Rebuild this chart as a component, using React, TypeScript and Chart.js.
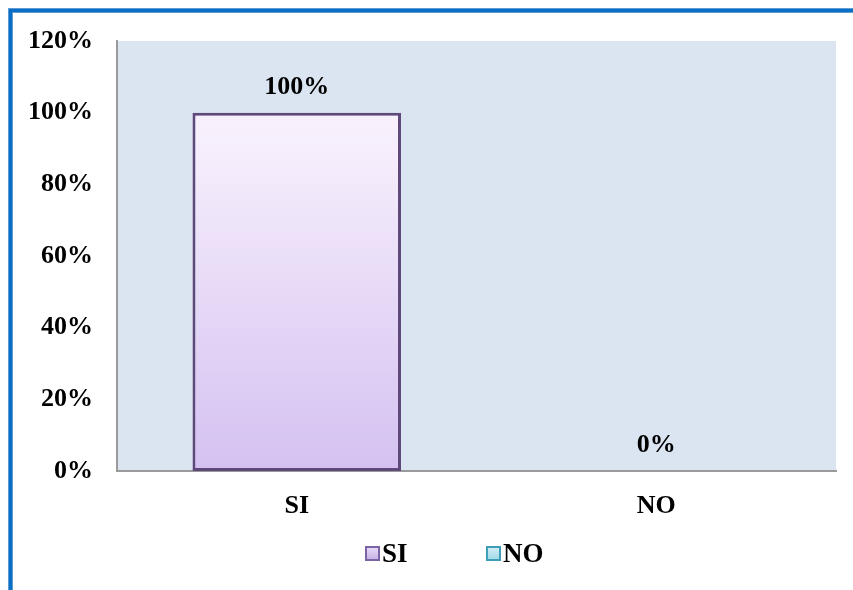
import React, { useEffect, useRef } from "react";
import { Chart, registerables } from "chart.js";

Chart.register(...registerables);

const categories = ["SI", "NO"];
const seriesNames = ["SI", "NO"];
const siValues: (number | null)[] = [100, null];
const noValues: (number | null)[] = [null, 0];
const yTicks = [0, 20, 40, 60, 80, 100, 120];

const FONT = "'Liberation Serif', 'Times New Roman', serif";

const frameAndBg = {
  id: "frameAndBg",
  beforeDraw(chart: any) {
    const { ctx, chartArea } = chart;
    ctx.save();
    ctx.fillStyle = "#ffffff";
    ctx.fillRect(0, 0, chart.width, chart.height);
    ctx.fillStyle = "#dbe5f1";
    ctx.fillRect(chartArea.left, chartArea.top, chartArea.right - chartArea.left, chartArea.bottom - chartArea.top);
    // blue outer frame
    ctx.fillStyle = "#5a9bd8";
    ctx.fillRect(8, 8, chart.width, 5);
    ctx.fillRect(8, 8, 5, chart.height);
    ctx.fillStyle = "#0a6fc2";
    ctx.fillRect(9, 9, chart.width, 3);
    ctx.fillRect(9, 9, 3, chart.height);
    ctx.restore();
  },
};

const valueLabels = {
  id: "valueLabels",
  afterDatasetsDraw(chart: any) {
    const { ctx } = chart;
    ctx.save();
    ctx.font = `bold 26px ${FONT}`;
    ctx.fillStyle = "#000";
    ctx.textAlign = "center";
    ctx.textBaseline = "alphabetic";
    chart.data.datasets.forEach((ds: any, i: number) => {
      const meta = chart.getDatasetMeta(i);
      meta.data.forEach((el: any, j: number) => {
        const v = ds.data[j];
        if (v === null || v === undefined) return;
        ctx.fillText(`${v}%`, el.x, el.y - 19);
      });
    });
    ctx.restore();
  },
};

const customLegend = {
  id: "customLegend",
  afterDraw(chart: any) {
    const { ctx } = chart;
    const starts = [365, 486];
    const y = 553;
    ctx.save();
    ctx.font = `bold 27px ${FONT}`;
    ctx.textBaseline = "middle";
    ctx.textAlign = "left";
    chart.data.datasets.forEach((ds: any, i: number) => {
      const x = starts[i];
      const g = ctx.createLinearGradient(0, y - 7, 0, y + 7);
      g.addColorStop(0, ds.legendTop);
      g.addColorStop(1, ds.legendBottom);
      ctx.fillStyle = g;
      ctx.fillRect(x, y - 7, 15, 15);
      ctx.strokeStyle = ds.legendBorder;
      ctx.lineWidth = 2;
      ctx.strokeRect(x + 1, y - 6, 13, 13);
      ctx.fillStyle = "#000";
      ctx.fillText(ds.label, x + 17, y + 2);
    });
    ctx.restore();
  },
};

export default function App() {
  const ref = useRef<HTMLCanvasElement>(null);
  useEffect(() => {
    if (!ref.current) return;
    const chart = new Chart(ref.current, {
      type: "bar",
      data: {
        labels: categories,
        datasets: [
          {
            label: seriesNames[0],
            data: siValues,
            backgroundColor: (c: any) => {
              const area = c.chart.chartArea;
              if (!area) return "#e6d9f7";
              const g = c.chart.ctx.createLinearGradient(0, area.top, 0, area.bottom);
              g.addColorStop(0, "#fdf7fe");
              g.addColorStop(0.25, "#f6eefc");
              g.addColorStop(1, "#d4c1f1");
              return g;
            },
            borderColor: "#5f497a",
            borderWidth: 3,
            borderSkipped: false,
            legendTop: "#eadff8",
            legendBottom: "#c6b1e6",
            legendBorder: "#7d64a4",
          } as any,
          {
            label: seriesNames[1],
            data: noValues,
            backgroundColor: "#b7e3ef",
            borderColor: "#4bacc6",
            borderWidth: 0,
            legendTop: "#d8f1f8",
            legendBottom: "#9fd8e8",
            legendBorder: "#3f9fba",
          } as any,
        ],
      },
      options: {
        responsive: true,
        maintainAspectRatio: false,
        animation: false,
        layout: { padding: { top: 41, right: 17, left: 0, bottom: 0 } },
        datasets: {
          bar: { grouped: false, categoryPercentage: 1, barPercentage: 0.58 },
        },
        plugins: {
          legend: { display: false },
          tooltip: { enabled: false },
        },
        scales: {
          x: {
            grid: { display: false, drawTicks: false },
            border: { display: true, color: "#9a9a9a", width: 2 },
            ticks: {
              color: "#000",
              padding: 20,
              font: { family: FONT, size: 26, weight: "bold" },
            },
            afterFit: (s: any) => {
              s.height = 119;
            },
          },
          y: {
            min: 0,
            max: 120,
            afterBuildTicks: (s: any) => {
              s.ticks = yTicks.map((v) => ({ value: v }));
            },
            grid: { display: false, drawTicks: false },
            border: { display: true, color: "#9a9a9a", width: 2 },
            ticks: {
              color: "#000",
              padding: 24,
              font: { family: FONT, size: 26, weight: "bold" },
              callback: (v: any) => `${v}%`,
            },
            afterFit: (s: any) => {
              s.width = 117;
            },
          },
        },
      },
      plugins: [frameAndBg, valueLabels, customLegend],
    });
    return () => chart.destroy();
  }, []);
  return (
    <div style={{ position: "absolute", left: 0, top: 0, width: 853, height: 590 }}>
      <canvas ref={ref} />
    </div>
  );
}
